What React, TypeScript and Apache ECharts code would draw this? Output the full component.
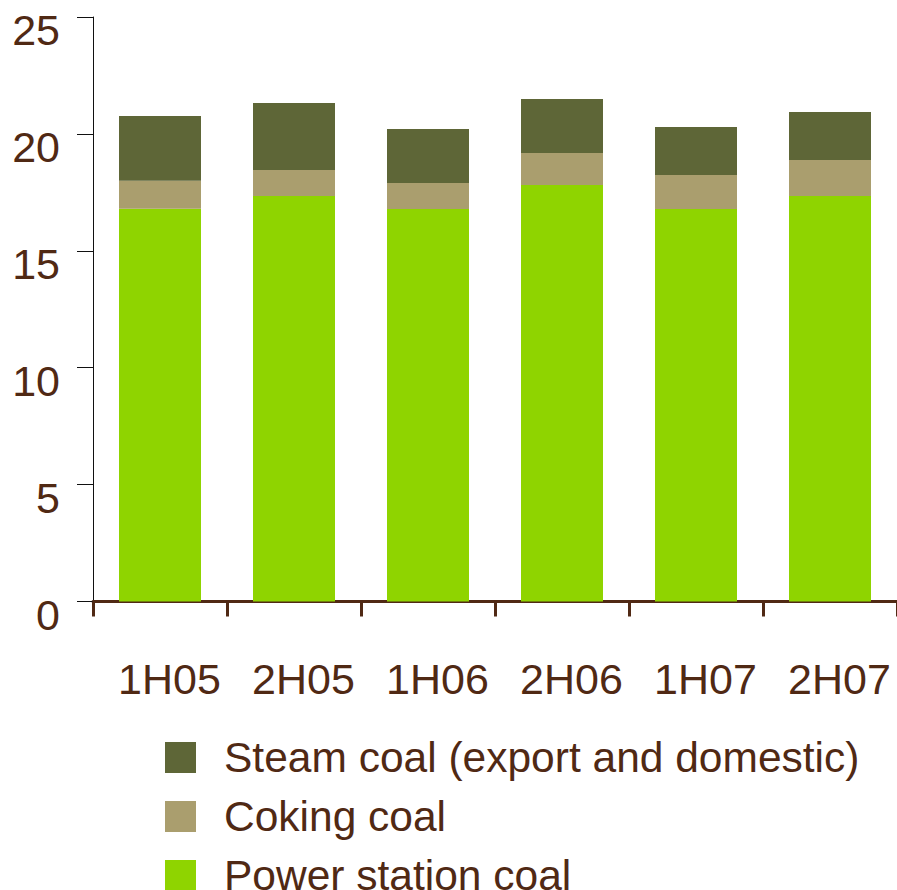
import React, { useEffect, useRef } from "react";
import * as echarts from "echarts";

// Half-year periods
const periods = ["1H05", "2H05", "1H06", "2H06", "1H07", "2H07"];

// Sales volumes by coal type (stacked, bottom to top)
const powerStationCoal = [16.8, 17.34, 16.79, 17.81, 16.79, 17.34];
const cokingCoal = [1.2, 1.12, 1.11, 1.37, 1.45, 1.54];
const steamCoal = [2.77, 2.86, 2.31, 2.31, 2.06, 2.06];

// Legend order (top to bottom)
const legendOrder = [
  "Steam coal (export and domestic)",
  "Coking coal",
  "Power station coal",
];

const TEXT = "#502914";
const FONT = "Liberation Sans, Arial, sans-serif";

export default function App() {
  const ref = useRef<HTMLDivElement>(null);

  useEffect(() => {
    if (!ref.current) return;
    const chart = echarts.init(ref.current, null, { renderer: "svg" });
    chart.setOption({
      animation: false,
      backgroundColor: "#ffffff",
      grid: {
        left: 93,
        right: 0,
        top: 17,
        bottom: 288.5,
        outerBoundsMode: "none",
      },
      legend: {
        orient: "vertical",
        left: 165,
        top: 736,
        height: 200,
        padding: 0,
        data: legendOrder,
        icon: "rect",
        itemWidth: 31,
        itemHeight: 31,
        itemGap: 16,
        selectedMode: false,
        textStyle: {
          color: TEXT,
          fontSize: 42.5,
          fontFamily: FONT,
          padding: [0, 0, 0, 23],
        },
      },
      xAxis: {
        type: "category",
        data: periods,
        axisLine: { lineStyle: { color: TEXT, width: 3 } },
        axisTick: { show: true, length: 15, lineStyle: { color: TEXT, width: 3 } },
        axisLabel: {
          color: TEXT,
          fontSize: 43,
          fontFamily: FONT,
          margin: 56,
          lineHeight: 43,
          padding: [0, 0, 0, 19],
        },
      },
      yAxis: {
        type: "value",
        min: 0,
        max: 25,
        interval: 5,
        splitLine: { show: false },
        axisLine: { show: true, lineStyle: { color: "#111111", width: 1 } },
        axisTick: { show: true, length: 16, lineStyle: { color: "#111111", width: 1 } },
        axisLabel: {
          color: TEXT,
          fontSize: 43,
          fontFamily: FONT,
          margin: 33,
          verticalAlign: "top",
          lineHeight: 26,
        },
      },
      series: [
        {
          name: "Power station coal",
          type: "bar",
          stack: "coal",
          barWidth: 82,
          data: powerStationCoal,
          itemStyle: { color: "#8fd400" },
        },
        {
          name: "Coking coal",
          type: "bar",
          stack: "coal",
          barWidth: 82,
          data: cokingCoal,
          itemStyle: { color: "#aa9e6e" },
        },
        {
          name: "Steam coal (export and domestic)",
          type: "bar",
          stack: "coal",
          barWidth: 82,
          data: steamCoal,
          itemStyle: { color: "#5e6637" },
        },
      ],
    });
    return () => chart.dispose();
  }, []);

  return (
    <div
      ref={ref}
      style={{ position: "absolute", left: 0, top: 0, width: 897, height: 890 }}
    />
  );
}
